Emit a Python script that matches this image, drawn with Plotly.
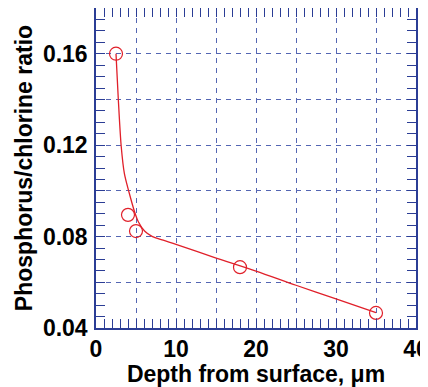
import plotly.graph_objects as go

# measured data points
depth_pts = [2.5, 4.0, 5.0, 18.0, 35.0]
ratio_pts = [0.160, 0.0895, 0.0824, 0.0666, 0.0466]

# fitted curve
fit_x = [2.5, 2.79, 3.15, 3.55, 4.12, 4.79, 5.29, 6.1, 7.0, 8.4, 10, 14.75, 20, 25, 30, 35]
fit_y = [0.160, 0.140, 0.1195, 0.1075, 0.0995, 0.0912, 0.0865, 0.0823, 0.0801, 0.0784, 0.0766, 0.0709, 0.0649, 0.0587, 0.0527, 0.0467]

x_tickvals = [0, 5, 10, 15, 20, 25, 30, 35, 40]
x_ticktext = ["0", "", "10", "", "20", "", "30", "", "40"]
y_tickvals = [0.04, 0.06, 0.08, 0.10, 0.12, 0.14, 0.16, 0.18]
y_ticktext = ["0.04", "", "0.08", "", "0.12", "", "0.16", ""]

AX = "#2b3d95"
GRID = "#5566b3"
RED = "#e0202a"

fig = go.Figure()
fig.add_trace(go.Scatter(x=fit_x, y=fit_y, mode="lines", line=dict(color=RED, width=1.3, shape="spline", smoothing=0.8),
                         showlegend=False, hoverinfo="skip"))
fig.add_trace(go.Scatter(x=depth_pts, y=ratio_pts, mode="markers",
                         marker=dict(symbol="circle-open", size=13, color=RED, line=dict(width=1.2, color=RED)),
                         showlegend=False))

font = dict(family="Liberation Sans, Arial, sans-serif", size=23, color="black", weight="bold")

# the page body has an 8px margin, so the figure is sized/margined to compensate
fig.update_layout(
    width=420, height=379,
    margin=dict(l=88, r=12, t=0, b=59),
    plot_bgcolor="white", paper_bgcolor="white",
    font=font,
    xaxis=dict(range=[0, 40], tickmode="array", tickvals=x_tickvals, ticktext=x_ticktext,
               ticks="inside", ticklen=9, tickcolor=AX, tickwidth=1,
               minor=dict(dtick=1, ticks="inside", ticklen=9, tickcolor=AX, tickwidth=1, showgrid=False),
               showline=True, linecolor=AX, linewidth=1.5, mirror="ticks",
               showgrid=True, gridcolor=GRID, griddash="5px,5px", gridwidth=1.2,
               zeroline=False, tickfont=font, automargin=False, ticklabeloverflow="allow",
               title=dict(text="Depth from surface, μm", font=font, standoff=5)),
    yaxis=dict(range=[0.04, 0.18], tickmode="array", tickvals=y_tickvals, ticktext=y_ticktext,
               ticks="inside", ticklen=9, tickcolor=AX, tickwidth=1,
               minor=dict(dtick=0.005, tick0=0.04, ticks="inside", ticklen=9, tickcolor=AX, tickwidth=1, showgrid=False),
               showline=True, linecolor=AX, linewidth=1.5, mirror="ticks",
               showgrid=True, gridcolor=GRID, griddash="5px,5px", gridwidth=1.2,
               zeroline=False, tickfont=font, automargin=False, ticklabelstandoff=2, ticklabeloverflow="allow",
               title=dict(text="Phosphorus/chlorine ratio", font=font, standoff=4)),
)

fig.write_html("out.html")
